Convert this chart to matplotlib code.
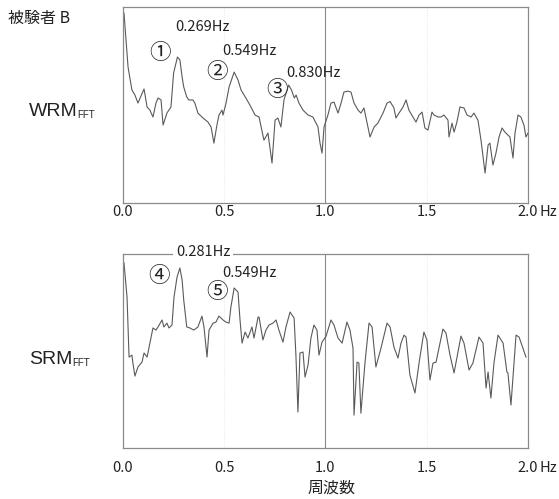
import matplotlib
matplotlib.use("Agg")
import matplotlib.pyplot as plt

plt.rcParams['font.family'] = ['Noto Sans CJK JP', 'DejaVu Sans']

# WRM FFT spectrum (frequency in Hz, relative amplitude)
wrm_freq = [0.005, 0.015, 0.025, 0.044, 0.059, 0.074, 0.104, 0.119, 0.133, 0.148,
            0.163, 0.173, 0.188, 0.198, 0.217, 0.237, 0.250, 0.269, 0.281, 0.292,
            0.300, 0.315, 0.325, 0.345, 0.355, 0.370, 0.395, 0.420, 0.435, 0.449,
            0.464, 0.474, 0.489, 0.494, 0.509, 0.524, 0.549, 0.568, 0.583, 0.607,
            0.632, 0.652, 0.672, 0.696, 0.716, 0.736, 0.751, 0.765, 0.780, 0.795,
            0.818, 0.832, 0.846, 0.855, 0.869, 0.889, 0.914, 0.938, 0.963, 0.973,
            0.983, 0.993, 1.012, 1.027, 1.042, 1.062, 1.077, 1.091, 1.111, 1.126,
            1.141, 1.161, 1.175, 1.190, 1.220, 1.240, 1.259, 1.284, 1.304, 1.319,
            1.338, 1.348, 1.363, 1.383, 1.398, 1.412, 1.432, 1.447, 1.462, 1.477,
            1.491, 1.506, 1.526, 1.536, 1.556, 1.570, 1.585, 1.605, 1.610, 1.625,
            1.635, 1.649, 1.664, 1.684, 1.699, 1.719, 1.733, 1.753, 1.768, 1.788,
            1.803, 1.812, 1.827, 1.842, 1.857, 1.872, 1.886, 1.901, 1.911, 1.926,
            1.936, 1.951, 1.965, 1.980, 1.990, 2.000]
wrm_amp = [96.9, 83.2, 69.4, 57.7, 55.1, 51.0, 58.2, 49.0, 47.4, 43.9,
           51.0, 53.6, 52.6, 39.8, 45.9, 49.0, 66.3, 74.5, 73.0, 64.3,
           59.2, 54.1, 52.6, 52.6, 51.0, 45.9, 43.4, 41.3, 38.8, 30.6,
           39.8, 44.9, 47.4, 44.9, 51.0, 59.2, 66.8, 62.8, 57.7, 53.6,
           49.0, 44.9, 43.9, 32.1, 35.7, 20.4, 42.3, 43.4, 38.8, 52.6,
           60.2, 57.7, 53.6, 55.1, 51.0, 47.4, 44.9, 43.9, 38.8, 30.6,
           25.5, 38.8, 44.9, 51.0, 51.5, 45.9, 51.0, 56.6, 57.1, 56.6,
           51.0, 47.4, 45.9, 48.5, 33.7, 38.8, 40.8, 45.9, 51.0, 51.8,
           48.5, 43.4, 45.9, 49.0, 52.6, 47.4, 43.9, 41.3, 44.9, 46.4,
           38.3, 37.2, 46.4, 44.9, 43.9, 43.9, 44.9, 42.3, 33.7, 40.8,
           36.2, 41.3, 49.0, 48.5, 44.9, 43.9, 45.9, 42.3, 32.1, 15.3,
           29.6, 30.6, 19.4, 25.5, 33.7, 38.3, 36.2, 34.7, 33.7, 23.0,
           35.7, 44.9, 43.9, 39.8, 33.7, 35.7]

# SRM FFT spectrum
srm_freq = [0.005, 0.020, 0.030, 0.044, 0.049, 0.059, 0.074, 0.094, 0.104, 0.119,
            0.133, 0.148, 0.163, 0.173, 0.193, 0.202, 0.217, 0.227, 0.242, 0.252,
            0.267, 0.281, 0.292, 0.300, 0.315, 0.330, 0.350, 0.370, 0.390, 0.400,
            0.415, 0.425, 0.445, 0.459, 0.474, 0.494, 0.509, 0.524, 0.533, 0.549,
            0.568, 0.578, 0.588, 0.603, 0.617, 0.637, 0.647, 0.667, 0.672, 0.691,
            0.706, 0.721, 0.741, 0.756, 0.770, 0.790, 0.805, 0.825, 0.845, 0.854,
            0.864, 0.874, 0.889, 0.899, 0.914, 0.928, 0.943, 0.958, 0.968, 0.983,
            1.003, 1.027, 1.042, 1.062, 1.082, 1.106, 1.121, 1.136, 1.141, 1.156,
            1.165, 1.175, 1.195, 1.215, 1.230, 1.249, 1.274, 1.304, 1.319, 1.338,
            1.358, 1.373, 1.388, 1.398, 1.417, 1.442, 1.462, 1.486, 1.501, 1.516,
            1.531, 1.546, 1.580, 1.595, 1.615, 1.635, 1.669, 1.684, 1.709, 1.728,
            1.758, 1.778, 1.793, 1.803, 1.817, 1.832, 1.852, 1.877, 1.896, 1.901,
            1.916, 1.941, 1.956, 1.975, 1.990]
srm_amp = [95.4, 77.8, 46.9, 47.9, 43.8, 37.1, 41.8, 44.3, 49.0, 46.9,
           54.1, 61.9, 60.8, 62.4, 66.0, 62.4, 64.4, 61.9, 63.4, 77.8,
           88.1, 92.8, 86.6, 76.3, 62.4, 61.9, 60.8, 62.4, 68.0, 62.4,
           46.9, 60.8, 64.4, 64.9, 68.0, 66.0, 64.9, 64.4, 72.7, 82.5,
           80.4, 66.0, 54.1, 59.8, 56.7, 62.4, 56.7, 67.5, 67.5, 55.7,
           60.8, 63.4, 64.4, 66.0, 60.8, 54.6, 62.4, 70.1, 67.0, 47.9,
           18.6, 49.0, 49.5, 36.6, 42.8, 56.7, 63.4, 60.8, 47.9, 54.6,
           57.7, 66.0, 63.4, 56.7, 54.1, 64.9, 60.8, 51.5, 17.0, 44.3,
           43.8, 18.0, 43.8, 64.4, 62.4, 41.8, 51.5, 64.4, 62.4, 52.1,
           46.4, 54.1, 58.2, 57.2, 37.6, 28.4, 43.8, 59.8, 55.7, 35.1,
           43.8, 44.3, 61.3, 59.3, 47.9, 38.7, 57.7, 54.1, 40.2, 43.8,
           57.2, 54.1, 30.9, 39.2, 25.8, 43.8, 58.2, 54.1, 39.2, 38.7,
           22.2, 58.2, 57.2, 51.5, 46.9]

tick_vals = [0.0, 0.5, 1.0, 1.5, 2.0]
tick_labels = ["0.0", "0.5", "1.0", "1.5", "2.0"]

LINE = '#5a5a5a'
FRAME = '#8a8a8a'
TXT = '#222222'
LATIN = ['Liberation Sans', 'DejaVu Sans']


def setup_axis(ax, pad):
    ax.set_xlim(0, 2.0)
    ax.set_ylim(0, 100)
    ax.set_yticks([])
    ax.set_xticks(tick_vals)
    ax.set_xticklabels(tick_labels)
    ax.tick_params(axis='x', length=0, pad=pad, labelsize=10.5, labelcolor=TXT)
    for s in ax.spines.values():
        s.set_color(FRAME)
        s.set_linewidth(0.9)
    for xv in (0.5, 1.5):
        ax.axvline(xv, color='#e2e2e2', lw=0.6, ls=':', zorder=0)
    ax.axvline(1.0, color='#8a8a8a', lw=0.8, zorder=1)
    ax.annotate('Hz', xy=(2.0, 0), xycoords=('data', 'axes fraction'),
                xytext=(8, -pad), textcoords='offset points',
                ha='left', va='top', fontsize=10.5, color=TXT)


fig = plt.figure(figsize=(5.59, 4.99), dpi=100)
ax1 = fig.add_axes([0.220, 0.593, 0.7245, 0.393])
ax2 = fig.add_axes([0.220, 0.102, 0.7245, 0.389])

ax1.plot(wrm_freq, wrm_amp, color=LINE, lw=0.8, zorder=2)
ax2.plot(srm_freq, srm_amp, color=LINE, lw=0.8, zorder=2)
setup_axis(ax1, 1.5)
setup_axis(ax2, 9)

# annotations: top panel
ax1.text(0.39, 89.8, '0.269Hz', ha='center', va='center', fontsize=10.5, color=TXT)
ax1.text(0.183, 76.5, '①', ha='center', va='center', fontsize=15.5, color=TXT)
ax1.text(0.622, 77.6, '0.549Hz', ha='center', va='center', fontsize=10.5, color=TXT)
ax1.text(0.464, 66.8, '②', ha='center', va='center', fontsize=15.5, color=TXT)
ax1.text(0.938, 66.3, '0.830Hz', ha='center', va='center', fontsize=10.5, color=TXT)
ax1.text(0.760, 57.7, '③', ha='center', va='center', fontsize=15.5, color=TXT)

# annotations: bottom panel
ax2.text(0.395, 100.8, '0.281Hz', ha='center', va='center', fontsize=10.5, color=TXT,
         bbox=dict(facecolor='white', edgecolor='none', pad=2), clip_on=False, zorder=5)
ax2.text(0.178, 88.7, '④', ha='center', va='center', fontsize=15.5, color=TXT)
ax2.text(0.622, 90.2, '0.549Hz', ha='center', va='center', fontsize=10.5, color=TXT)
ax2.text(0.464, 80.4, '⑤', ha='center', va='center', fontsize=15.5, color=TXT)

# panel labels
fig.text(8 / 559, 1 - 18 / 499, '被験者 B', ha='left', va='center', fontsize=11.5, color=TXT)
w = fig.text(29 / 559, 1 - 116 / 499, 'WRM', ha='left', va='baseline', fontsize=14,
             family=LATIN, color=TXT)
s = fig.text(29 / 559, 1 - 364 / 499, 'SRM', ha='left', va='baseline', fontsize=14,
             family=LATIN, color=TXT)
ax1.annotate('FFT', xy=(1, 0), xycoords=w, ha='left', va='bottom', fontsize=7,
             family=LATIN, color=TXT, annotation_clip=False)
ax2.annotate('FFT', xy=(1, 0), xycoords=s, ha='left', va='bottom', fontsize=7,
             family=LATIN, color=TXT, annotation_clip=False)

fig.text(331 / 559, 1 - 488 / 499, '周波数', ha='center', va='center', fontsize=11.5, color=TXT)

fig.savefig('out.png', dpi=100)
